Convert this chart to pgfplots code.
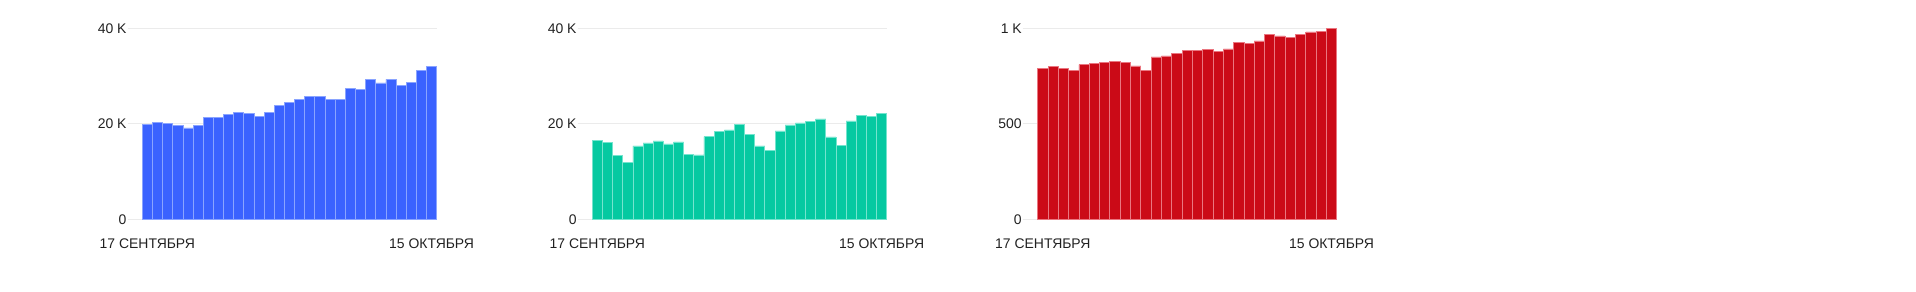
\documentclass[border=0pt]{standalone}
\usepackage{fontspec}
\setmainfont{Liberation Sans}
\usepackage{pgfplots}
\pgfplotsset{compat=1.18}
\definecolor{cblue}{HTML}{3A62FF}
\definecolor{cblueE}{HTML}{8AA4FF}
\definecolor{cgreen}{HTML}{05C9A1}
\definecolor{cgreenE}{HTML}{74E4CE}
\definecolor{cred}{HTML}{CB0A17}
\definecolor{credE}{HTML}{EA7680}
\definecolor{ctext}{HTML}{212121}
\definecolor{cgrid}{HTML}{EBEBEB}
\pgfplotsset{
  mini/.style={
    scale only axis, anchor=south west, clip=false,
    height=191bp, xmin=-1.958, xmax=28.5, ymin=0,
    axis line style={draw=none}, major tick length=0pt, tick style={draw=none},
    ymajorgrids, grid style={color=cgrid, line width=1bp},
    scaled y ticks=false,
    xtick={0,28}, xticklabels={17 СЕНТЯБРЯ,15 ОКТЯБРЯ},
    xticklabel style={anchor=base, yshift=-28.7bp, inner sep=0pt},
    yticklabel style={anchor=east, inner sep=0pt, xshift=-0.8bp},
    tick label style={font=\fontsize{14}{16}\selectfont, text=ctext},
    ybar, bar width=1, bar shift=0pt,
  }
}
\begin{document}
\begin{tikzpicture}[x=1bp,y=1bp]
\path (0,0) rectangle (1916,291);
\begin{axis}[mini, at={(127.5bp,71.7bp)}, width=309.2bp, ymax=40000,
  ytick={0,20000,40000}, yticklabels={0,20 K,40 K}]
\addplot[fill=cblue, draw=cblueE, line width=0.8bp] coordinates {
(0,19830) (1,20240) (2,20100) (3,19690) (4,19130) (5,19620) (6,21360) (7,21290)
(8,21920) (9,22410) (10,22130) (11,21500) (12,22340) (13,23800) (14,24430)
(15,25130) (16,25690) (17,25690) (18,25060) (19,25060) (20,27430) (21,27160)
(22,29250) (23,28550) (24,29320) (25,28060) (26,28620) (27,31200) (28,32100)};
\end{axis}
\begin{axis}[mini, at={(577.5bp,71.7bp)}, width=309.2bp, ymax=40000,
  ytick={0,20000,40000}, yticklabels={0,20 K,40 K}]
\addplot[fill=cgreen, draw=cgreenE, line width=0.8bp] coordinates {
(0,16540) (1,16130) (2,13330) (3,11940) (4,15360) (5,15990) (6,16400) (7,15780)
(8,16200) (9,13610) (10,13470) (11,17310) (12,18360) (13,18710) (14,19900)
(15,17800) (16,15360) (17,14450) (18,18500) (19,19760) (20,20170) (21,20450)
(22,21010) (23,17240) (24,15430) (25,20590) (26,21710) (27,21570) (28,22200)};
\end{axis}
\begin{axis}[mini, at={(1022.7bp,71.7bp)}, width=314bp, xmin=-1.955, ymax=1000,
  ytick={0,500,1000}, yticklabels={0,500,1 K}]
\addplot[fill=cred, draw=credE, line width=0.8bp] coordinates {
(0,789) (1,798) (2,791) (3,777) (4,810) (5,815) (6,819) (7,827)
(8,820) (9,803) (10,778) (11,850) (12,855) (13,866) (14,885)
(15,883) (16,887) (17,880) (18,892) (19,927) (20,922) (21,934)
(22,967) (23,960) (24,953) (25,970) (26,981) (27,983) (28,997)};
\end{axis}
\end{tikzpicture}
\end{document}
